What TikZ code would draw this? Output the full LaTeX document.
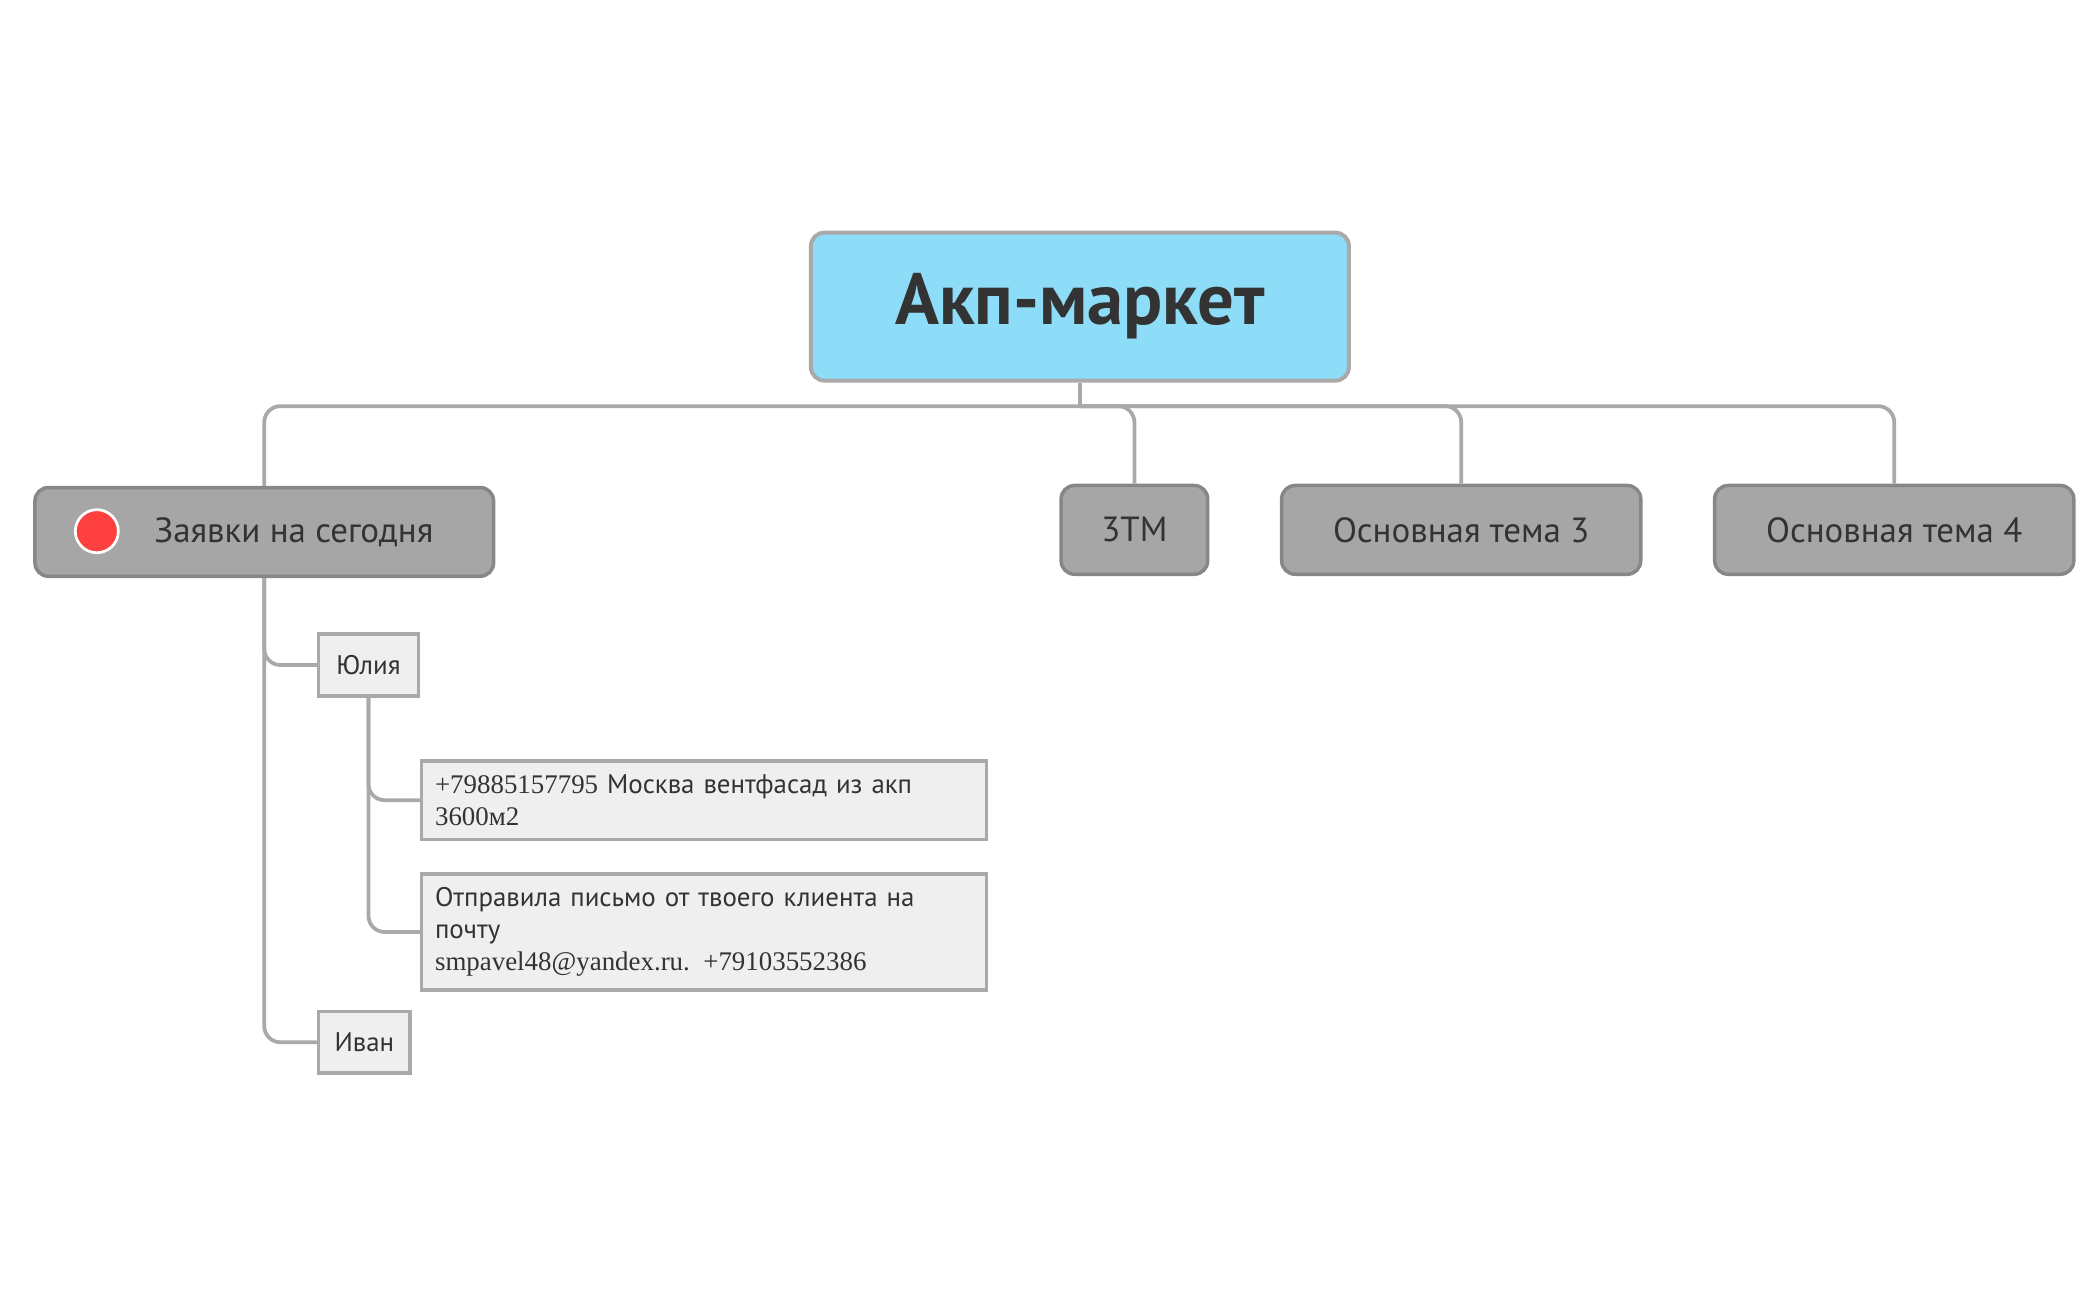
\documentclass[tikz,border=0pt]{standalone}
\usepackage{fontspec}
\setmainfont{PT Sans}
\newfontfamily\numfont{Liberation Serif}
\usetikzlibrary{positioning}

\definecolor{rootblue}{HTML}{8EDDF8}
\definecolor{topicgray}{HTML}{A6A6A6}
\definecolor{leafgray}{HTML}{EFEFEF}
\definecolor{edgegray}{HTML}{A9A9A9}
\definecolor{textdark}{HTML}{333333}

\tikzset{
  rootbox/.style={draw=edgegray, line width=1.5pt, fill=rootblue, rounded corners=5pt,
    minimum width=200pt, minimum height=55pt, font=\fontsize{27}{30}\selectfont\bfseries, text=textdark},
  topicbox/.style={draw=edgegray!80!black, line width=1.3pt, fill=topicgray, rounded corners=5pt,
    minimum height=33pt, font=\fontsize{13}{15}\selectfont, text=textdark},
  leafbox/.style={draw=edgegray, line width=1.3pt, fill=leafgray,
    minimum height=23pt, font=\fontsize{10}{12}\selectfont, text=textdark},
  notebox/.style={leafbox, text width=200pt, align=left, inner sep=5pt},
  link/.style={draw=edgegray, line width=1.4pt, rounded corners=6pt},
}

\begin{document}
\begin{tikzpicture}[x=0.5pt, y=-0.5pt]

  \useasboundingbox (0,0) rectangle (1560,967);

  % Central topic
  \node[rootbox] (root) at (803,228) {Акп-маркет};

  % Main topics
  \node[topicbox, minimum width=170.5pt] (t1) at (196.5,395.5) {\hspace*{22pt}Заявки на сегодня};
  \node[topicbox, minimum width=54.5pt] (t2) at (843.5,394) {3TM};
  \node[topicbox, minimum width=133.5pt] (t3) at (1086.5,394) {Основная тема 3};
  \node[topicbox, minimum width=133.5pt] (t4) at (1408.5,394) {Основная тема 4};
  \filldraw[fill=red!75!white, draw=white, line width=1pt] (72,395) circle (8pt);

  % Subtopics
  \node[leafbox, minimum width=37pt] (julia) at (274,494.5) {Юлия};
  \node[notebox] (n1) at (523.5,595) {{\numfont +79885157795} Москва вентфасад из акп\\{\numfont 3600м2}};
  \node[notebox] (n2) at (523.5,693) {Отправила письмо от твоего клиента на почту\\{\numfont smpavel48@yandex.ru. +79103552386}};
  \node[leafbox, minimum width=34pt] (ivan) at (271,775) {Иван};

  % Connectors
  \coordinate (bus) at (803,302);
  \draw[link] (root.south) -- (bus);
  \foreach \t in {t1,t2,t3,t4}
    \draw[link] (bus) -| (\t.north);
  \draw[link] (t1.south) |- (julia.west);
  \draw[link] (t1.south) |- (ivan.west);
  \draw[link] (julia.south) |- (n1.west);
  \draw[link] (julia.south) |- (n2.west);

\end{tikzpicture}
\end{document}
